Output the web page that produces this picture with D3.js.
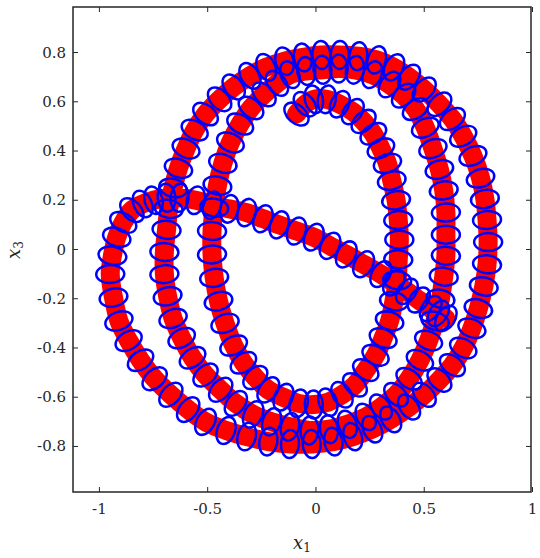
<!DOCTYPE html>
<html><head><meta charset="utf-8">
<script src="https://cdn.jsdelivr.net/npm/d3@7"></script>
<style>body{margin:0;background:#fff}</style></head>
<body><svg id="c" width="540" height="558"></svg>
<script>
const xTicks=[-1,-0.5,0,0.5,1];
const yTicks=[-0.8,-0.6,-0.4,-0.2,0,0.2,0.4,0.6,0.8];
const x1=[-0.09,-0.05,-0.01,0.05,0.11,0.17,0.22,0.265,0.30,0.33,0.35,0.37,0.38,0.385,0.38,0.375,0.36,0.34,0.31,0.275,0.23,0.18,0.12,0.055,-0.01,-0.08,-0.15,-0.22,-0.28,-0.335,-0.38,-0.42,-0.45,-0.47,-0.48,-0.48,-0.47,-0.455,-0.43,-0.395,-0.35,-0.30,-0.24,-0.18,-0.12,-0.045,0.03,0.105,
0.18,0.26,0.34,0.405,0.46,0.505,0.54,0.57,0.59,0.60,0.60,0.60,0.59,0.575,0.55,0.52,0.48,0.43,0.37,0.30,0.23,0.145,0.06,-0.03,-0.12,-0.205,-0.29,-0.37,-0.44,-0.51,-0.57,-0.62,-0.66,-0.685,-0.70,-0.70,-0.69,-0.68,
-0.66,-0.635,-0.60,-0.56,-0.51,-0.445,-0.38,-0.305,-0.23,-0.145,-0.06,0.025,0.11,0.195,0.28,0.36,0.43,0.50,0.57,0.63,0.68,0.725,0.76,0.78,0.79,0.795,0.79,0.775,0.75,0.72,0.68,0.63,0.57,0.50,0.43,0.345,0.26,0.17,0.08,-0.02,-0.12,-0.22,-0.32,-0.415,-0.51,-0.59,-0.67,-0.745,-0.81,-0.865,-0.91,-0.935,-0.95,-0.94,-0.92,-0.89,-0.85,-0.80,-0.75,-0.69,-0.63,-0.555,
-0.48,-0.40,-0.32,-0.245,-0.17,-0.09,-0.01,0.065,0.14,0.22,0.30,0.36,0.42,0.475,0.53,0.565,0.60];
const x3=[0.55,0.59,0.61,0.61,0.59,0.56,0.52,0.47,0.41,0.35,0.28,0.20,0.12,0.04,-0.04,-0.125,-0.21,-0.29,-0.36,-0.43,-0.49,-0.55,-0.59,-0.62,-0.63,-0.625,-0.60,-0.57,-0.52,-0.46,-0.39,-0.30,-0.21,-0.115,-0.02,0.075,0.17,0.26,0.35,0.435,0.51,0.575,0.63,0.675,0.71,0.725,0.73,0.735,
0.73,0.71,0.67,0.625,0.57,0.495,0.41,0.325,0.24,0.15,0.06,-0.025,-0.11,-0.20,-0.29,-0.37,-0.45,-0.525,-0.59,-0.64,-0.68,-0.71,-0.73,-0.735,-0.72,-0.70,-0.67,-0.625,-0.57,-0.51,-0.44,-0.36,-0.28,-0.19,-0.10,-0.01,0.08,0.165,
0.25,0.33,0.41,0.485,0.55,0.61,0.66,0.705,0.74,0.765,0.78,0.79,0.79,0.785,0.77,0.74,0.70,0.65,0.59,0.53,0.46,0.38,0.29,0.205,0.12,0.03,-0.06,-0.15,-0.24,-0.32,-0.40,-0.47,-0.53,-0.59,-0.64,-0.69,-0.73,-0.76,-0.78,-0.79,-0.79,-0.78,-0.76,-0.735,-0.70,-0.65,-0.59,-0.525,-0.45,-0.37,-0.29,-0.195,-0.10,-0.025,0.05,0.11,0.16,0.185,0.20,0.21,0.21,0.20,
0.18,0.165,0.15,0.125,0.10,0.075,0.05,0.015,-0.02,-0.06,-0.10,-0.135,-0.17,-0.205,-0.24,-0.26,-0.28];
const svg=d3.select("#c");
const L=73,R=531,T=7,B=492;
const x=d3.scaleLinear().domain([-1.122,0.993]).range([L,R]);
const y=d3.scaleLinear().domain([-0.985,0.985]).range([B,T]);
const pts=x1.map((v,i)=>[x(v),y(x3[i])]);
const g=svg.append("g");
g.append("path").attr("d",d3.line().curve(d3.curveCatmullRom)(pts))
 .attr("fill","none").attr("stroke","#ff0000").attr("stroke-width",19).attr("stroke-linecap","round").attr("stroke-linejoin","round");
pts.forEach((p,i)=>{
 const a=pts[Math.max(0,i-1)],b=pts[Math.min(pts.length-1,i+1)];
 const ang=Math.atan2(b[1]-a[1],b[0]-a[0])*180/Math.PI;
 g.append("ellipse").attr("cx",p[0]).attr("cy",p[1]).attr("rx",9).attr("ry",14)
  .attr("transform",`rotate(${ang},${p[0]},${p[1]})`)
  .attr("fill","none").attr("stroke","#0000ff").attr("stroke-width",2.5);
});
const f="'DejaVu Serif','Liberation Serif',serif";
svg.append("rect").attr("x",L).attr("y",T).attr("width",R-L).attr("height",B-T).attr("fill","none").attr("stroke","#262626").attr("stroke-width",1.5);
xTicks.forEach(t=>{const X=x(t);
 svg.append("line").attr("x1",X).attr("x2",X).attr("y1",B).attr("y2",B-5).attr("stroke","#262626");
 svg.append("line").attr("x1",X).attr("x2",X).attr("y1",T).attr("y2",T+5).attr("stroke","#262626");
 svg.append("text").attr("x",X).attr("y",B+22).attr("text-anchor","middle").attr("font-family",f).attr("font-size",15).attr("fill","#262626").text(String(t));});
yTicks.forEach(t=>{const Y=y(t);
 svg.append("line").attr("y1",Y).attr("y2",Y).attr("x1",L).attr("x2",L+5).attr("stroke","#262626");
 svg.append("line").attr("y1",Y).attr("y2",Y).attr("x1",R).attr("x2",R-5).attr("stroke","#262626");
 svg.append("text").attr("x",L-7).attr("y",Y+5).attr("text-anchor","end").attr("font-family",f).attr("font-size",15).attr("fill","#262626").text(t===0?"0":t.toFixed(1));});
const xl=svg.append("text").attr("x",(L+R)/2).attr("y",549).attr("text-anchor","middle").attr("font-family",f).attr("font-size",18).attr("fill","#262626");
xl.append("tspan").attr("font-style","italic").text("x");
xl.append("tspan").attr("font-size",12).attr("dy",3).text("1");
const yl=svg.append("text").attr("transform","translate(20,250) rotate(-90)").attr("text-anchor","middle").attr("font-family",f).attr("font-size",18).attr("fill","#262626");
yl.append("tspan").attr("font-style","italic").text("x");
yl.append("tspan").attr("font-size",12).attr("dy",3).text("3");
</script></body></html>
